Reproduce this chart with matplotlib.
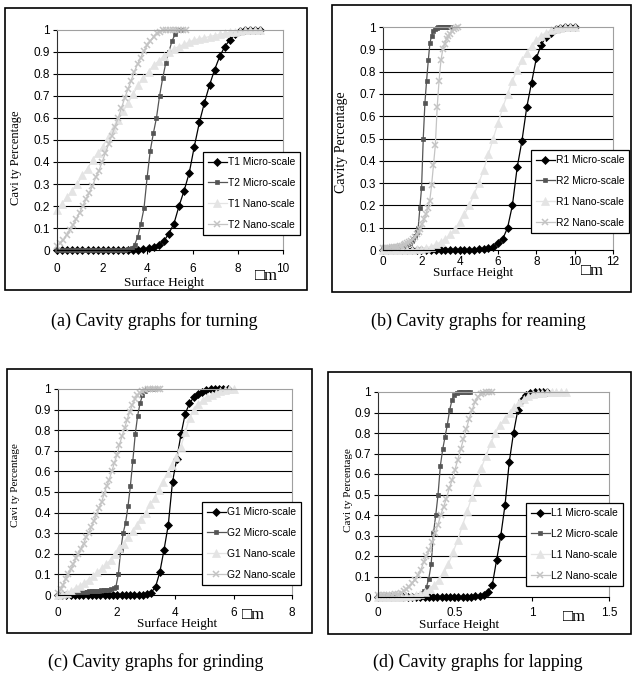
import numpy as np
import matplotlib.pyplot as plt
from matplotlib.patches import Rectangle

# figure size in pixels, everything below is placed in pixel coords
W, H = 632, 677

# ---- (a) turning ----
t1_micro_xmax = 9.0
t1_micro = [0, 0, 0, 0, 0, 0, 0, 0, 0, 0, 0, 0, 0, 0, 0, 0,
            0.002, 0.004, 0.007, 0.012, 0.022, 0.04, 0.075, 0.12, 0.2, 0.27,
            0.35, 0.47, 0.58, 0.67, 0.75, 0.82, 0.88, 0.925, 0.955, 0.98,
            0.995, 1, 1, 1, 1]
t2_micro_xmax = 5.5
t2_micro = [0, 0, 0, 0, 0, 0, 0, 0, 0, 0, 0, 0, 0, 0, 0, 0, 0, 0, 0, 0, 0, 0, 0,
            0.003, 0.01, 0.025, 0.06, 0.12, 0.19, 0.33, 0.45, 0.53, 0.6,
            0.7, 0.78, 0.85, 0.9, 0.95, 0.98, 1, 1]
t1_nano_xmax = 9.0
t1_nano = [0.18, 0.21, 0.24, 0.27, 0.3, 0.34, 0.37, 0.41, 0.44, 0.47,
           0.51, 0.55, 0.59, 0.63, 0.67, 0.71, 0.75, 0.78, 0.81, 0.84,
           0.86, 0.88, 0.9, 0.915, 0.925, 0.935, 0.945, 0.955, 0.96, 0.965,
           0.97, 0.975, 0.98, 0.985, 0.99, 0.993, 0.996, 0.998, 1, 1, 1]
t2_nano_xmax = 5.7
t2_nano = [0.02, 0.03, 0.045, 0.07, 0.09, 0.115, 0.14, 0.17, 0.2, 0.23,
           0.26, 0.29, 0.33, 0.36, 0.4, 0.44, 0.48, 0.52, 0.56, 0.6,
           0.645, 0.69, 0.73, 0.77, 0.81, 0.845, 0.875, 0.905, 0.93, 0.95,
           0.97, 0.985, 0.993, 0.998, 1, 1, 1, 1, 1, 1, 1]

# ---- (b) reaming ----
r1_micro_xmax = 10.0
r1_micro = [0, 0, 0, 0, 0, 0, 0, 0, 0, 0, 0, 0, 0, 0, 0, 0, 0, 0, 0, 0,
            0.003, 0.005, 0.008, 0.015, 0.03, 0.05, 0.1, 0.2, 0.37, 0.49,
            0.64, 0.75, 0.86, 0.92, 0.955, 0.975, 0.99, 0.997, 1, 1, 1]
r2_micro_xmax = 3.5
r2_micro = [0.01, 0.01, 0.01, 0.01, 0.011, 0.011, 0.012, 0.012, 0.013, 0.013,
            0.014, 0.015, 0.016, 0.018, 0.02, 0.025, 0.03, 0.04, 0.05, 0.065,
            0.08, 0.1, 0.19, 0.28, 0.5, 0.66, 0.76, 0.85, 0.93, 0.96,
            0.98, 0.99, 0.995, 1, 1, 1, 1, 1, 1, 1, 1]
r1_nano_xmax = 10.0
r1_nano = [0, 0, 0, 0, 0.001, 0.001, 0.002, 0.003, 0.005, 0.01,
           0.015, 0.025, 0.035, 0.05, 0.07, 0.095, 0.125, 0.16, 0.2, 0.25,
           0.3, 0.36, 0.43, 0.5, 0.57, 0.64, 0.7, 0.76, 0.805, 0.85,
           0.885, 0.915, 0.94, 0.96, 0.975, 0.985, 0.992, 0.996, 0.999, 1, 1]
r2_nano_xmax = 3.9
r2_nano = [0.01, 0.01, 0.01, 0.01, 0.01, 0.012, 0.013, 0.014, 0.015, 0.017,
           0.02, 0.022, 0.025, 0.03, 0.035, 0.04, 0.05, 0.06, 0.07, 0.08,
           0.095, 0.115, 0.14, 0.16, 0.19, 0.22, 0.29, 0.38, 0.47, 0.64,
           0.76, 0.85, 0.9, 0.925, 0.945, 0.96, 0.97, 0.98, 0.99, 0.995, 1]

# ---- (c) grinding ----
g1_micro_xmax = 5.8
g1_micro = [0, 0, 0, 0, 0, 0, 0, 0, 0, 0, 0, 0, 0, 0, 0, 0, 0, 0, 0, 0,
            0.002, 0.005, 0.012, 0.04, 0.11, 0.22, 0.34, 0.55, 0.66, 0.78,
            0.88, 0.93, 0.96, 0.975, 0.985, 0.993, 0.998, 1, 1, 1, 1]
g2_micro_xmax = 3.3
g2_micro = [0, 0.002, 0.004, 0.006, 0.008, 0.009, 0.01, 0.011, 0.012, 0.013,
            0.014, 0.015, 0.016, 0.017, 0.018, 0.019, 0.02, 0.021, 0.022, 0.023,
            0.024, 0.026, 0.028, 0.032, 0.04, 0.1, 0.22, 0.3, 0.35, 0.43,
            0.53, 0.65, 0.78, 0.87, 0.93, 0.97, 0.99, 1, 1, 1, 1]
g1_nano_xmax = 6.0
g1_nano = [0, 0.005, 0.012, 0.02, 0.035, 0.045, 0.06, 0.075, 0.09, 0.11,
           0.13, 0.15, 0.17, 0.2, 0.23, 0.25, 0.28, 0.31, 0.34, 0.37,
           0.4, 0.44, 0.47, 0.51, 0.55, 0.59, 0.63, 0.67, 0.72, 0.79,
           0.86, 0.9, 0.925, 0.945, 0.96, 0.97, 0.98, 0.99, 0.995, 0.999, 1]
g2_nano_xmax = 3.5
g2_nano = [0.01, 0.03, 0.05, 0.08, 0.1, 0.125, 0.15, 0.18, 0.2, 0.225,
           0.25, 0.28, 0.3, 0.33, 0.36, 0.39, 0.42, 0.45, 0.49, 0.53,
           0.56, 0.6, 0.64, 0.68, 0.73, 0.77, 0.81, 0.85, 0.89, 0.92,
           0.95, 0.97, 0.98, 0.99, 0.995, 1, 1, 1, 1, 1, 1]

# ---- (d) lapping ----
l1_micro_xmax = 1.1
l1_micro = [0, 0, 0, 0, 0, 0, 0, 0, 0, 0, 0, 0, 0, 0, 0, 0, 0, 0, 0, 0, 0, 0, 0,
            0.003, 0.006, 0.012, 0.025, 0.06, 0.18, 0.3, 0.45, 0.66, 0.8,
            0.91, 0.96, 0.985, 0.995, 1, 1, 1, 1]
l2_micro_xmax = 0.6
l2_micro = [0.003, 0.005, 0.005, 0.005, 0.005, 0.005, 0.005, 0.005, 0.005, 0.005,
            0.005, 0.005, 0.005, 0.005, 0.005, 0.005, 0.006, 0.008, 0.012, 0.018,
            0.03, 0.05, 0.09, 0.16, 0.31, 0.4, 0.5, 0.64, 0.72, 0.78,
            0.84, 0.91, 0.96, 0.985, 0.995, 1, 1, 1, 1, 1, 1]
l1_nano_xmax = 1.22
l1_nano = [0, 0, 0, 0, 0.001, 0.002, 0.004, 0.006, 0.01, 0.015,
           0.025, 0.04, 0.06, 0.085, 0.12, 0.16, 0.22, 0.28, 0.35, 0.42,
           0.49, 0.56, 0.63, 0.69, 0.75, 0.8, 0.84, 0.87, 0.9, 0.925,
           0.95, 0.965, 0.98, 0.988, 0.993, 0.997, 0.999, 1, 1, 1, 1]
l2_nano_xmax = 0.74
l2_nano = [0.01, 0.01, 0.01, 0.01, 0.011, 0.012, 0.014, 0.016, 0.02, 0.027,
           0.038, 0.05, 0.068, 0.085, 0.105, 0.13, 0.17, 0.2, 0.23, 0.27,
           0.31, 0.35, 0.4, 0.44, 0.48, 0.53, 0.57, 0.62, 0.67, 0.72,
           0.77, 0.82, 0.87, 0.91, 0.95, 0.975, 0.99, 0.997, 1, 1, 1]

y_ticks = [0, 0.1, 0.2, 0.3, 0.4, 0.5, 0.6, 0.7, 0.8, 0.9, 1]
y_tick_labels = ["0", "0.1", "0.2", "0.3", "0.4", "0.5", "0.6", "0.7", "0.8", "0.9", "1"]

# series styles: (colour, marker, markersize)
styles = [("#000000", "D", 4.0), ("#555555", "s", 3.2),
          ("#e4e4e4", "^", 5.6), ("#c4c4c4", "x", 5.0)]

panels = [
    dict(prefix="T", curves=[(t1_micro_xmax, t1_micro), (t2_micro_xmax, t2_micro),
                             (t1_nano_xmax, t1_nano), (t2_nano_xmax, t2_nano)],
         axes=(57, 30, 283, 250), box=(5, 8, 307, 290), xmax=10,
         xticks=[0, 2, 4, 6, 8, 10], xtl=["0", "2", "4", "6", "8", "10"], xpad=6,
         ylabel="Cavi ty Percentage", ylabel_pos=(16, 158), ylabel_size=9,
         xlabel_pos=(164, 283), um_pos=(266, 276), leg=(203, 152),
         caption="(a) Cavity graphs for turning", cap_pos=(154, 321)),
    dict(prefix="R", curves=[(r1_micro_xmax, r1_micro), (r2_micro_xmax, r2_micro),
                             (r1_nano_xmax, r1_nano), (r2_nano_xmax, r2_nano)],
         axes=(383, 27, 613, 250), box=(332, 5, 631, 292), xmax=12,
         xticks=[0, 2, 4, 6, 8, 10, 12], xtl=["0", "2", "4", "6", "8", "10", "12"], xpad=1.5,
         ylabel="Cavity Percentage", ylabel_pos=(341, 142), ylabel_size=10,
         xlabel_pos=(473, 273), um_pos=(592, 271), leg=(531, 150),
         caption="(b) Cavity graphs for reaming", cap_pos=(478, 321)),
    dict(prefix="G", curves=[(g1_micro_xmax, g1_micro), (g2_micro_xmax, g2_micro),
                             (g1_nano_xmax, g1_nano), (g2_nano_xmax, g2_nano)],
         axes=(58, 389, 292, 595), box=(7, 369, 312, 633), xmax=8,
         xticks=[0, 2, 4, 6, 8], xtl=["0", "2", "4", "6", "8"], xpad=6,
         ylabel="Cavi ty Percentage", ylabel_pos=(15, 485), ylabel_size=8,
         xlabel_pos=(177, 624), um_pos=(253, 615), leg=(202, 502),
         caption="(c) Cavity graphs for grinding", cap_pos=(156, 662)),
    dict(prefix="L", curves=[(l1_micro_xmax, l1_micro), (l2_micro_xmax, l2_micro),
                             (l1_nano_xmax, l1_nano), (l2_nano_xmax, l2_nano)],
         axes=(378, 392, 609, 597), box=(328, 372, 631, 634), xmax=1.5,
         xticks=[0, 0.5, 1, 1.5], xtl=["0", "0.5", "1", "1.5"], xpad=4.5,
         ylabel="Cavi ty Percentage", ylabel_pos=(348, 490), ylabel_size=8,
         xlabel_pos=(459, 625), um_pos=(574, 617), leg=(526, 503),
         caption="(d) Cavity graphs for lapping", cap_pos=(478, 662)),
]

SANS = "Liberation Sans"
SERIF = "Liberation Serif"


def fx(px):
    return px / W


def fy(py):
    return 1 - py / H


fig = plt.figure(figsize=(W / 100, H / 100), dpi=100)

for p in panels:
    l, t, r, b = p["axes"]
    ax = fig.add_axes([fx(l), fy(b), (r - l) / W, (b - t) / H])
    ax.set_xlim(0, p["xmax"])
    ax.set_ylim(0, 1)

    names = [p["prefix"] + "1 Micro-scale", p["prefix"] + "2 Micro-scale",
             p["prefix"] + "1 Nano-scale", p["prefix"] + "2 Nano-scale"]
    handles = []
    for (xmax, ys), (col, mk, ms), name in zip(p["curves"], styles, names):
        xs = np.linspace(0, xmax, len(ys))
        kw = dict(color=col, lw=0.9, marker=mk, ms=ms, mfc=col, mec=col, clip_on=False)
        if mk == "x":
            kw["mew"] = 1.1
        else:
            kw["mew"] = 0.5
        h, = ax.plot(xs, ys, label=name, **kw)
        handles.append(h)

    # excel-like grid and frame
    for yv in y_ticks[1:-1]:
        ax.axhline(yv, color="black", lw=0.8, zorder=0.5)
    ax.spines["top"].set_color("#a0a0a0")
    ax.spines["right"].set_color("#a0a0a0")
    ax.spines["left"].set_color("#303030")
    ax.spines["bottom"].set_color("black")
    for s in ax.spines.values():
        s.set_linewidth(0.8)

    ax.set_yticks(y_ticks)
    ax.set_yticklabels(y_tick_labels)
    ax.set_xticks(p["xticks"])
    ax.set_xticklabels(p["xtl"])
    ax.tick_params(axis="y", direction="out", length=3, width=0.8, pad=2,
                   labelsize=8.5)
    ax.tick_params(axis="x", direction="out", length=3, width=0.8, pad=p["xpad"],
                   labelsize=8.5)
    for lab in ax.get_xticklabels() + ax.get_yticklabels():
        lab.set_family(SANS)

    leg = ax.legend(handles=handles, loc="upper left",
                    bbox_to_anchor=(fx(p["leg"][0]), fy(p["leg"][1])),
                    bbox_transform=fig.transFigure, borderaxespad=0,
                    fancybox=False, edgecolor="black", framealpha=1,
                    prop={"family": SANS, "size": 7.4},
                    handlelength=1.8, handletextpad=0.1, borderpad=0.5,
                    labelspacing=1.05)
    leg.get_frame().set_linewidth(0.9)

    # texts around the axes
    fig.text(fx(p["xlabel_pos"][0]), fy(p["xlabel_pos"][1]), "Surface Height",
             family=SERIF, fontsize=9.5, ha="center", va="center")
    fig.text(fx(p["um_pos"][0]), fy(p["um_pos"][1]), "\u25a1m",
             family=[SERIF, "DejaVu Sans"], fontsize=12, ha="center", va="center")
    fig.text(fx(p["ylabel_pos"][0]), fy(p["ylabel_pos"][1]), p["ylabel"],
             family=SERIF, fontsize=p["ylabel_size"], rotation=90,
             ha="center", va="center")
    fig.text(fx(p["cap_pos"][0]), fy(p["cap_pos"][1]), p["caption"],
             family=SERIF, fontsize=13, ha="center", va="center")

    # outer box around each graph
    bl, bt, br, bb = p["box"]
    fig.patches.append(Rectangle((fx(bl), fy(bb)), (br - bl) / W, (bb - bt) / H,
                                 transform=fig.transFigure, fill=False,
                                 edgecolor="black", lw=1.2))

fig.savefig("out.png", dpi=100)
